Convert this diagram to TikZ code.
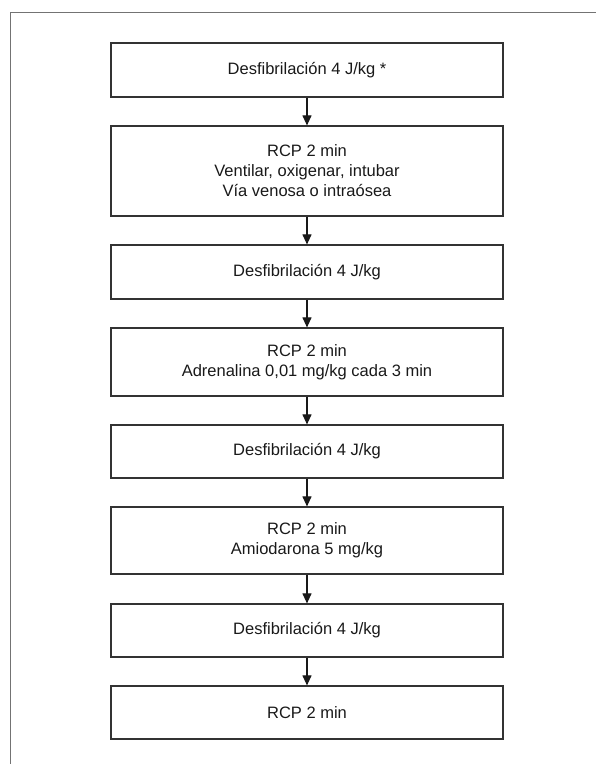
\documentclass[tikz,border=0pt]{standalone}
\usepackage{fontspec}
\setmainfont{Liberation Sans}
\usetikzlibrary{arrows.meta}
\begin{document}
\begin{tikzpicture}[x=1pt,y=-1pt,
  stepbox/.style={draw=black!80,line width=1.2pt,rectangle,minimum width=392pt,
    inner sep=0pt,align=center,text=black!90,font=\fontsize{16.5}{20}\selectfont},
  flow/.style={draw=black!90,line width=1.1pt,-{Triangle[width=9pt,length=10pt]}},
  frame/.style={draw=black!55,line width=1pt}]
\useasboundingbox (0,0) rectangle (596,764);
% open frame: top and left edges only
\draw[frame] (10,764) -- (10,12) -- (596,12);
% protocol steps
\node[stepbox,minimum height=54pt] (s1) at (307,70) {Desfibrilación 4 J/kg *};
\node[stepbox,minimum height=90pt] (s2) at (307,171) {RCP 2 min\\Ventilar, oxigenar, intubar\\Vía venosa o intraósea};
\node[stepbox,minimum height=54pt] (s3) at (307,272) {Desfibrilación 4 J/kg};
\node[stepbox,minimum height=68pt] (s4) at (307,362) {RCP 2 min\\Adrenalina 0,01 mg/kg cada 3 min};
\node[stepbox,minimum height=53pt] (s5) at (307,451.5) {Desfibrilación 4 J/kg};
\node[stepbox,minimum height=67pt] (s6) at (307,540.5) {RCP 2 min\\Amiodarona 5 mg/kg};
\node[stepbox,minimum height=53pt] (s7) at (307,630.5) {Desfibrilación 4 J/kg};
\node[stepbox,minimum height=53pt] (s8) at (307,712.5) {RCP 2 min};
% connectors
\foreach \a/\b in {s1/s2,s2/s3,s3/s4,s4/s5,s5/s6,s6/s7,s7/s8}
  \draw[flow] (\a.south) -- (\b.north);
\end{tikzpicture}
\end{document}
